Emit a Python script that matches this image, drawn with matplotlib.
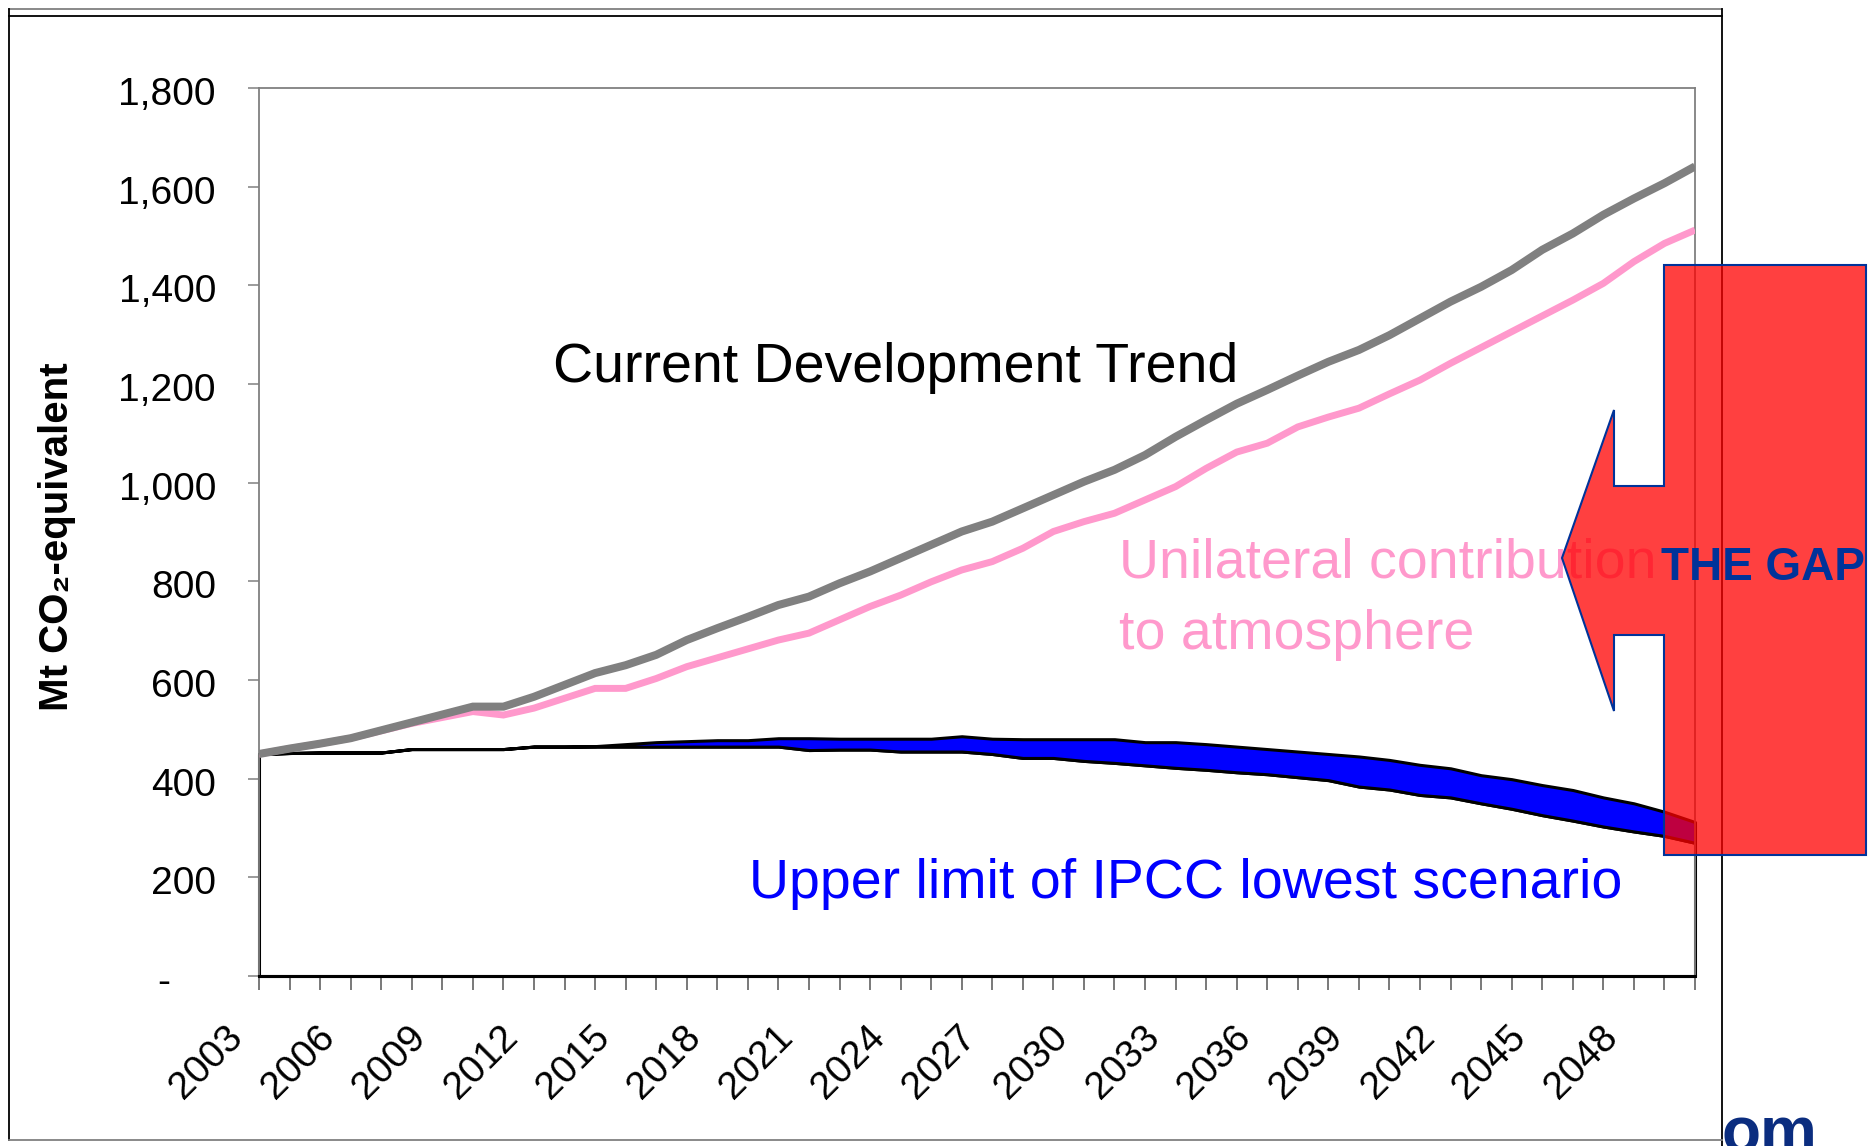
import matplotlib.pyplot as plt
import matplotlib.patches as mpatches
from matplotlib.lines import Line2D
from matplotlib.ticker import FuncFormatter
from matplotlib.transforms import ScaledTranslation

# data (Mt CO2-equivalent)
years = list(range(2003, 2051))
current_trend = [
    450, 461, 471, 482, 498, 514, 530, 546, 546, 566,
    590, 614, 630, 651, 681, 705, 728, 752, 769, 796,
    820, 847, 874, 901, 921, 948, 975, 1002, 1026, 1056,
    1093, 1127, 1160, 1188, 1217, 1245, 1269, 1299, 1333, 1367,
    1397, 1431, 1472, 1505, 1543, 1576, 1607, 1641,
]
unilateral = [
    450, 461, 471, 482, 497, 512, 524, 536, 529, 543,
    563, 583, 583, 603, 627, 645, 663, 681, 695, 722,
    749, 772, 799, 823, 840, 867, 901, 921, 938, 965,
    992, 1029, 1062, 1080, 1113, 1133, 1151, 1180, 1208, 1242,
    1274, 1306, 1338, 1370, 1404, 1448, 1485, 1512,
]
ipcc_lower = [
    450, 452, 453, 453, 453, 460, 460, 460, 460, 465,
    465, 465, 465, 465, 465, 465, 465, 465, 458, 459,
    459, 455, 455, 455, 450, 442, 442, 436, 432, 427,
    422, 418, 413, 409, 403, 397, 384, 378, 367, 362,
    350, 339, 326, 315, 303, 293, 284, 270,
]
ipcc_upper = [
    450, 452, 453, 453, 453, 460, 460, 460, 460, 465,
    465, 466, 470, 474, 476, 478, 478, 482, 482, 481,
    481, 481, 481, 486, 481, 480, 480, 480, 480, 474,
    474, 470, 465, 460, 455, 450, 445, 438, 428, 421,
    407, 399, 387, 377, 362, 350, 333, 312,
]
y_ticks = [0, 200, 400, 600, 800, 1000, 1200, 1400, 1600, 1800]

W, H = 1873, 1146


def px(x, y):
    # pixel position (from top-left) -> figure fraction
    return (x / W, 1 - y / H)


def plot_gap():
    plt.rcParams["font.family"] = ["Liberation Sans", "DejaVu Sans"]

    fig = plt.figure(figsize=(W / 100, H / 100), dpi=100)
    ax = fig.add_axes([259 / W, 1 - 976 / H, (1695 - 259) / W, (976 - 88) / H])

    # slide frame and the cut-off logo at the bottom right
    fig.text(1721 / W, -0.006, "om", color="#0b2d7f", fontsize=46, fontweight="bold",
             ha="left", va="baseline", zorder=-3)
    frame = [
        ((9, 1722), (9, 9), "#808080"),
        ((9, 1722), (16, 16), "black"),
        ((9, 9), (9, 1140), "black"),
        ((1722, 1722), (9, 1146), "black"),
        ((9, 1722), (1140, 1140), "#808080"),
    ]
    for xs, ys, c in frame:
        fig.lines.append(Line2D([x / W for x in xs], [1 - y / H for y in ys],
                                transform=fig.transFigure, color=c, lw=1.3, zorder=-1))

    # IPCC band: white base area + blue band, both outlined in black
    ax.fill_between(years, 0, ipcc_lower, facecolor="white", edgecolor="black",
                    linewidth=2.2, clip_on=False, zorder=2)
    ax.fill_between(years, ipcc_lower, ipcc_upper, facecolor="#0000FF", edgecolor="black",
                    linewidth=2.2, clip_on=False, zorder=2)

    ax.plot(years, unilateral, color="#FF99CC", linewidth=5.0, zorder=3,
            solid_capstyle="butt", solid_joinstyle="miter")
    ax.plot(years, current_trend, color="#808080", linewidth=5.8, zorder=4,
            solid_capstyle="butt", solid_joinstyle="miter")

    ax.set_xlim(years[0], years[-1])
    ax.set_ylim(0, 1800)

    # axes styling
    for side in ["left", "top", "right"]:
        ax.spines[side].set_color("#808080")
        ax.spines[side].set_linewidth(1.3)
    ax.spines["bottom"].set_color("black")
    ax.spines["bottom"].set_linewidth(2.2)

    ax.set_yticks(y_ticks)
    ax.yaxis.set_major_formatter(FuncFormatter(lambda v, p: "-" if v == 0 else f"{int(v):,}"))
    ax.tick_params(axis="y", direction="out", length=8, width=1.1, color="#808080",
                   labelsize=28, pad=23)
    for lab in ax.get_yticklabels():
        lab.set_transform(lab.get_transform() + ScaledTranslation(0, -0.03, fig.dpi_scale_trans))

    ax.set_xticks(years)
    ax.set_xticklabels([str(y) if (y - years[0]) % 3 == 0 else "" for y in years],
                       rotation=45, ha="right", va="top")
    ax.tick_params(axis="x", direction="out", length=10, width=1.1, color="#555555",
                   labelsize=28, pad=21)
    for lab in ax.get_xticklabels():
        lab.set_transform(lab.get_transform() + ScaledTranslation(-0.09, 0, fig.dpi_scale_trans))
    zero_lab = ax.get_yticklabels()[0]
    zero_lab.set_transform(zero_lab.get_transform() + ScaledTranslation(-0.46, 0, fig.dpi_scale_trans))

    fig.text(*px(57, 537), "Mt CO₂-equivalent", rotation=90, fontsize=29, fontweight="bold",
             ha="center", va="center")

    # annotations
    fig_t = fig.transFigure
    ax.text(*px(553, 382), "Current Development Trend", transform=fig_t, fontsize=40,
            color="black", ha="left", va="baseline", zorder=5)
    ax.text(*px(1119, 577), "Unilateral contribution", transform=fig_t, fontsize=40,
            color="#FF99CC", ha="left", va="baseline", zorder=5)
    ax.text(*px(1119, 649), "to atmosphere", transform=fig_t, fontsize=40,
            color="#FF99CC", ha="left", va="baseline", zorder=5)
    ax.text(*px(749, 898), "Upper limit of IPCC lowest scenario", transform=fig_t,
            fontsize=40, color="#0000FF", ha="left", va="baseline", zorder=5)

    # "THE GAP" callout arrow on top of the axes
    arrow_pts = [(1664, 265), (1866, 265), (1866, 855), (1664, 855), (1664, 635),
                 (1614, 635), (1614, 711), (1562, 558), (1614, 410), (1614, 486),
                 (1664, 486)]
    fig.patches.append(mpatches.Polygon([px(x, y) for x, y in arrow_pts], closed=True,
                                        transform=fig.transFigure, facecolor="#FF0000",
                                        alpha=0.75, edgecolor="none", zorder=5))
    fig.patches.append(mpatches.Polygon([px(x, y) for x, y in arrow_pts], closed=True,
                                        transform=fig.transFigure, facecolor="none",
                                        edgecolor="#003399", linewidth=1.5, zorder=5))
    fig.text(*px(1661, 580), "THE GAP", fontsize=33, fontweight="bold", color="#003399",
             ha="left", va="baseline", zorder=6)

    fig.savefig("out.png", dpi=100)


if __name__ == "__main__":
    plot_gap()
